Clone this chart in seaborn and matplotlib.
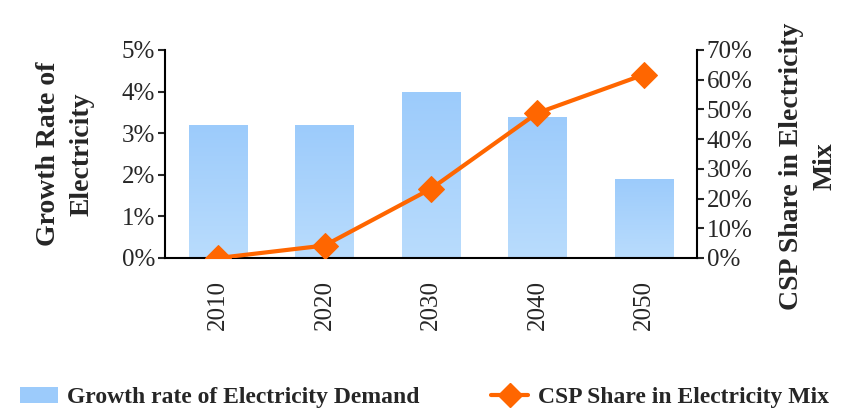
import numpy as np
import pandas as pd
import matplotlib
matplotlib.use("Agg")
import matplotlib.pyplot as plt
from matplotlib.colors import LinearSegmentedColormap
from matplotlib.ticker import PercentFormatter
from matplotlib.patches import Patch
from matplotlib.lines import Line2D
import seaborn as sns

# data
years = ["2010", "2020", "2030", "2040", "2050"]
growth_rate = [3.2, 3.2, 4.0, 3.4, 1.9]      # % (left axis)
csp_share = [0.0, 4.2, 23.3, 48.8, 61.7]     # % (right axis)

bar_label = "Growth rate of Electricity Demand"
line_label = "CSP Share in Electricity Mix"

sns.set_style("white")
plt.rcParams["font.family"] = ["Liberation Serif", "DejaVu Serif"]

BLUE_TOP = "#9ccbfb"
BLUE_BOTTOM = "#b9dcfd"
ORANGE = "#ff6600"

fig = plt.figure(figsize=(8.49, 4.13), dpi=100)
ax = fig.add_axes([165 / 849, 1 - 258 / 413, (697 - 165) / 849, (258 - 50) / 413])

df = pd.DataFrame({"year": years, "growth": growth_rate, "share": csp_share})
sns.barplot(data=df, x="year", y="growth", ax=ax, color=BLUE_TOP, width=0.55,
            saturation=1, edgecolor="none")

# vertical gradient fill on the bars
cmap = LinearSegmentedColormap.from_list("bluegrad", [BLUE_BOTTOM, BLUE_TOP])
grad = np.linspace(0, 1, 256).reshape(-1, 1)
for p in list(ax.patches):
    x0, y0 = p.get_x(), p.get_y()
    w, h = p.get_width(), p.get_height()
    im = ax.imshow(grad, cmap=cmap, origin="lower", aspect="auto",
                   extent=[x0, x0 + w, y0, y0 + h], zorder=p.get_zorder())
    im.set_clip_path(p)
    p.set_facecolor("none")

ax.set_xlim(-0.5, len(years) - 0.5)
ax.set_ylim(0, 5)
ax.yaxis.set_major_locator(plt.MultipleLocator(1))
ax.yaxis.set_major_formatter(PercentFormatter(decimals=0))
ax.set_xlabel("")
ax.set_ylabel("Growth Rate of\nElectricity", fontsize=20, fontweight="bold",
              linespacing=1.45, va="center")
ax.yaxis.set_label_coords(-0.188, 0.5)
ax.tick_params(axis="x", labelrotation=90, labelsize=18, length=0, pad=16)
ax.tick_params(axis="y", labelsize=18, direction="out", length=5, width=1.5,
               left=True, pad=2)

ax2 = ax.twinx()
sns.lineplot(x=np.arange(len(years)), y=csp_share, ax=ax2, color=ORANGE,
             linewidth=3, marker="D", markersize=13, markeredgecolor=ORANGE)
ax2.set_ylim(0, 70)
ax2.yaxis.set_major_locator(plt.MultipleLocator(10))
ax2.yaxis.set_major_formatter(PercentFormatter(decimals=0))
ax2.set_ylabel("CSP Share in Electricity\nMix", fontsize=20, fontweight="bold",
               linespacing=1.45, va="center")
ax2.yaxis.set_label_coords(1.21, 0.44)
ax2.tick_params(axis="y", labelsize=18, direction="out", length=5, width=1.5,
                right=True, pad=2)
ax2.set_xlim(-0.5, len(years) - 0.5)

for a in (ax, ax2):
    a.spines["top"].set_visible(False)
    for s in ("left", "right", "bottom"):
        a.spines[s].set_linewidth(1.5)
        a.spines[s].set_color("black")
ax.spines["right"].set_visible(False)
ax2.spines["left"].set_visible(False)
ax2.spines["bottom"].set_visible(False)

handles = [Patch(facecolor=BLUE_TOP, edgecolor="none"),
           Line2D([], [], color=ORANGE, linewidth=3, marker="D", markersize=12)]
fig.legend(handles, [bar_label, line_label], loc="center",
           bbox_to_anchor=(0.5, 0.038), ncol=2, frameon=False,
           prop={"size": 17, "weight": "bold"}, handlelength=1.6,
           columnspacing=3.0, handletextpad=0.4)

fig.savefig("out.png", dpi=100)
